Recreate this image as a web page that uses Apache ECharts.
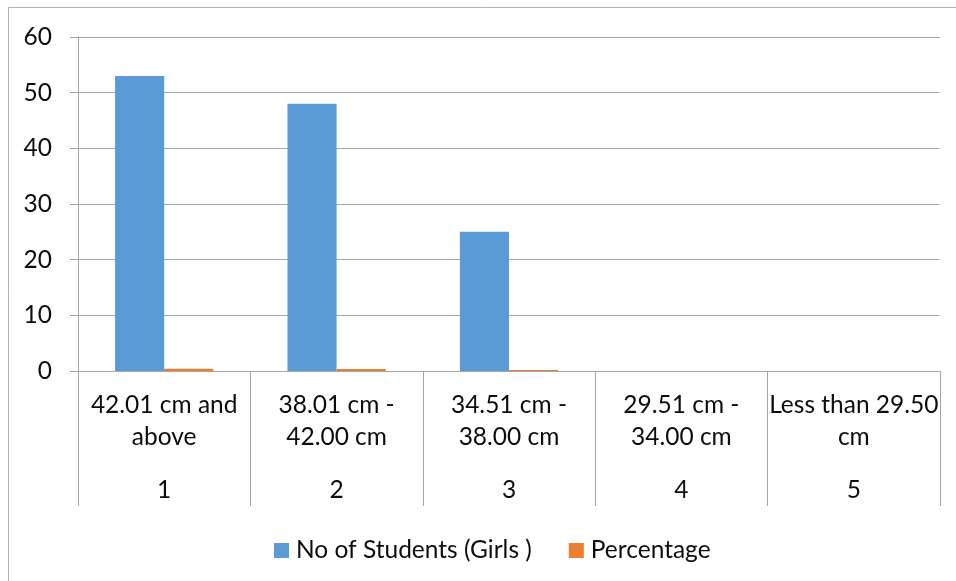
<!DOCTYPE html>
<html>
<head>
<meta charset="utf-8">
<script src="https://cdn.jsdelivr.net/npm/echarts@6/dist/echarts.min.js"></script>
<style>
  html, body { margin: 0; padding: 0; background: #fff; }
  #chart { width: 956px; height: 581px; }
</style>
</head>
<body>
<div id="chart"></div>
<script>
// Head circumference classes (upper tier) and their class numbers (lower tier)
const categories = ['42.01 cm and\nabove', '38.01 cm -\n42.00 cm', '34.51 cm -\n38.00 cm', '29.51 cm -\n34.00 cm', 'Less than 29.50\ncm'];
const classNumbers = ['1', '2', '3', '4', '5'];
const girlsCount = [53, 48, 25, 0, 0];
const percentage = [0.42, 0.38, 0.2, 0, 0];
const yTicks = { min: 0, max: 60, interval: 10 };

const FONT = 'Lato';
const FS = 24.5;
const TEXT = '#0d0d0d';
const LINE = '#a6a6a6';

const chart = echarts.init(document.getElementById('chart'), null, { renderer: 'canvas' });

chart.setOption({
  animation: false,
  backgroundColor: '#fff',
  textStyle: { fontFamily: FONT },
  graphic: [{
    type: 'rect',
    shape: { x: 8.5, y: 7.5, width: 1000, height: 1000 },
    style: { fill: 'none', stroke: '#b3b3b3', lineWidth: 1 },
    silent: true
  }],
  grid: { left: 78, right: 16, top: 37, bottom: 210, containLabel: false },
  legend: {
    left: 269,
    top: 533,
    itemWidth: 15,
    itemHeight: 15,
    itemGap: 37,
    icon: 'rect',
    textStyle: { fontFamily: FONT, fontSize: FS, color: TEXT, padding: [0, 0, 0, 2] },
    data: ['No of Students (Girls )', 'Percentage']
  },
  xAxis: [{
    type: 'category',
    data: categories,
    boundaryGap: true,
    axisLine: { show: true, lineStyle: { color: LINE, width: 1 } },
    axisTick: { show: false },
    axisLabel: {
      interval: 0,
      margin: 18,
      fontFamily: FONT,
      fontSize: FS,
      lineHeight: 32,
      color: TEXT,
      align: 'center'
    }
  }, {
    type: 'category',
    data: classNumbers,
    position: 'bottom',
    boundaryGap: true,
    axisLine: { show: false },
    axisTick: { show: true, interval: 0, length: 135, lineStyle: { color: LINE, width: 1 } },
    axisLabel: {
      interval: 0,
      margin: 107,
      fontFamily: FONT,
      fontSize: FS,
      lineHeight: 24,
      color: TEXT
    }
  }],
  yAxis: {
    type: 'value',
    min: yTicks.min,
    max: yTicks.max,
    interval: yTicks.interval,
    axisLine: { show: true, lineStyle: { color: LINE, width: 1 } },
    axisTick: { show: true, length: 8, lineStyle: { color: LINE, width: 1 } },
    splitLine: { show: true, lineStyle: { color: LINE, width: 1 } },
    axisLabel: { margin: 26, fontFamily: FONT, fontSize: FS, color: TEXT }
  },
  series: [{
    name: 'No of Students (Girls )',
    type: 'bar',
    xAxisIndex: 0,
    data: girlsCount,
    itemStyle: { color: '#5B9BD5' },
    barGap: '0%',
    barCategoryGap: '43%'
  }, {
    name: 'Percentage',
    type: 'bar',
    xAxisIndex: 0,
    data: percentage,
    itemStyle: { color: '#ED7D31' },
    barGap: '0%',
    barCategoryGap: '43%'
  }]
});
</script>
</body>
</html>
